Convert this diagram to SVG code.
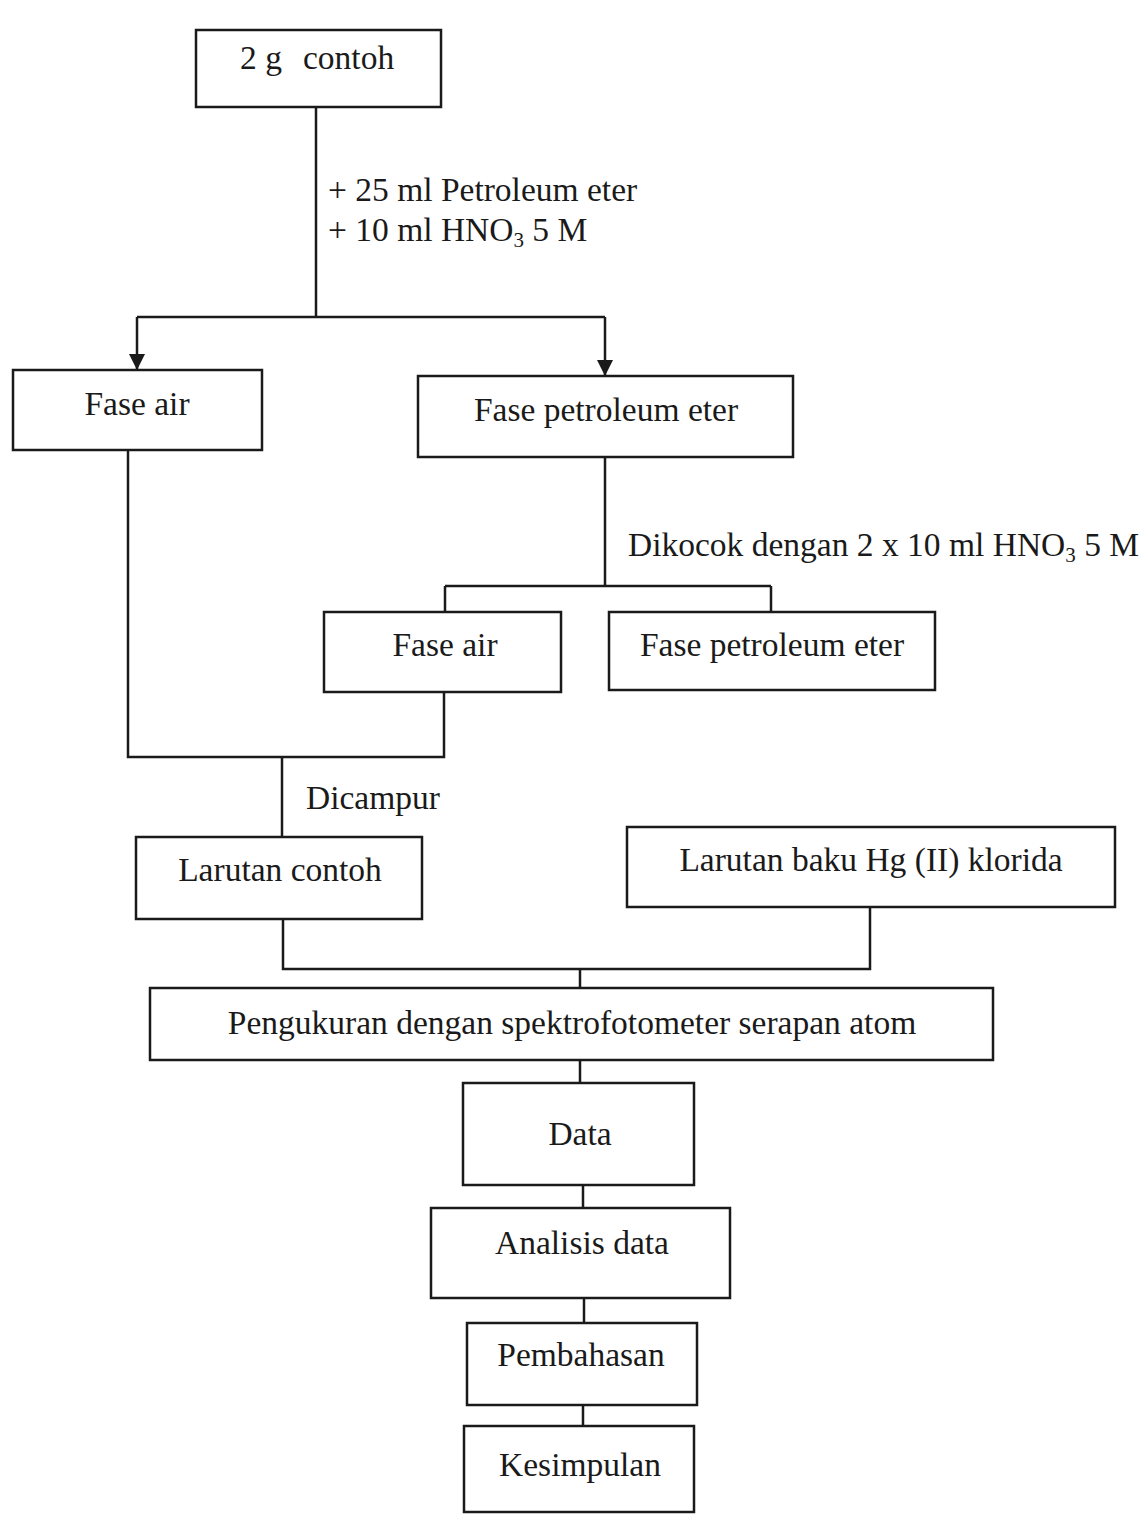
<svg xmlns="http://www.w3.org/2000/svg" width="1148" height="1515" viewBox="0 0 1148 1515">
<defs>
<style>
.box{fill:#fff;stroke:#1a1a1a;stroke-width:2.5}
.ln{fill:none;stroke:#1a1a1a;stroke-width:2.5}
text{font-family:"Liberation Serif","Times New Roman",serif;font-size:33.5px;fill:#1a1a1a}
.c{text-anchor:middle}
</style>
<marker id="ah" viewBox="0 0 10 10" refX="10" refY="5" markerWidth="16" markerHeight="16" markerUnits="userSpaceOnUse" orient="auto">
<path d="M0,0 L10,5 L0,10 Z" fill="#1a1a1a"/>
</marker>
</defs>
<rect width="1148" height="1515" fill="#fff"/>
<g id="connectors">
<path class="ln" d="M316,107 V317"/>
<path class="ln" d="M137,317 H605"/>
<path class="ln" d="M137,317 V370" marker-end="url(#ah)"/>
<path class="ln" d="M605,317 V376" marker-end="url(#ah)"/>
<path class="ln" d="M605,457 V586"/>
<path class="ln" d="M445,586 H771"/>
<path class="ln" d="M445,586 V612"/>
<path class="ln" d="M771,586 V612"/>
<path class="ln" d="M128,450 V757 H444 V692"/>
<path class="ln" d="M282,757 V837"/>
<path class="ln" d="M283,919 V969 H870 V907"/>
<path class="ln" d="M580,969 V988"/>
<path class="ln" d="M580,1060 V1083"/>
<path class="ln" d="M583,1185 V1208"/>
<path class="ln" d="M584,1298 V1323"/>
<path class="ln" d="M583,1405 V1426"/>
<text x="328" y="201">+ 25 ml Petroleum eter</text>
<text x="328" y="241">+ 10 ml HNO<tspan font-size="21" dy="6">3</tspan><tspan dy="-6"> 5 M</tspan></text>
<text x="628" y="556">Dikocok dengan 2 x 10 ml HNO<tspan font-size="21" dy="6">3</tspan><tspan dy="-6"> 5 M</tspan></text>
<text x="306" y="809">Dicampur</text>
</g>
<g id="n1"><rect class="box" x="196" y="30" width="245" height="77"/><text x="240" y="69">2 g<tspan x="303">contoh</tspan></text></g>
<g id="n2"><rect class="box" x="13" y="370" width="249" height="80"/><text class="c" x="137" y="415">Fase air</text></g>
<g id="n3"><rect class="box" x="418" y="376" width="375" height="81"/><text class="c" x="606" y="421">Fase petroleum eter</text></g>
<g id="n4"><rect class="box" x="324" y="612" width="237" height="80"/><text class="c" x="445" y="656">Fase air</text></g>
<g id="n5"><rect class="box" x="609" y="612" width="326" height="78"/><text class="c" x="772" y="656">Fase petroleum eter</text></g>
<g id="n6"><rect class="box" x="136" y="837" width="286" height="82"/><text class="c" x="280" y="881">Larutan contoh</text></g>
<g id="n7"><rect class="box" x="627" y="827" width="488" height="80"/><text class="c" x="871" y="871">Larutan baku Hg (II) klorida</text></g>
<g id="n8"><rect class="box" x="150" y="988" width="843" height="72"/><text class="c" x="572" y="1034">Pengukuran dengan spektrofotometer serapan atom</text></g>
<g id="n9"><rect class="box" x="463" y="1083" width="231" height="102"/><text class="c" x="580" y="1145">Data</text></g>
<g id="n10"><rect class="box" x="431" y="1208" width="299" height="90"/><text class="c" x="582" y="1254">Analisis data</text></g>
<g id="n11"><rect class="box" x="467" y="1323" width="230" height="82"/><text class="c" x="581" y="1366">Pembahasan</text></g>
<g id="n12"><rect class="box" x="464" y="1426" width="230" height="86"/><text class="c" x="580" y="1476">Kesimpulan</text></g>
</svg>
